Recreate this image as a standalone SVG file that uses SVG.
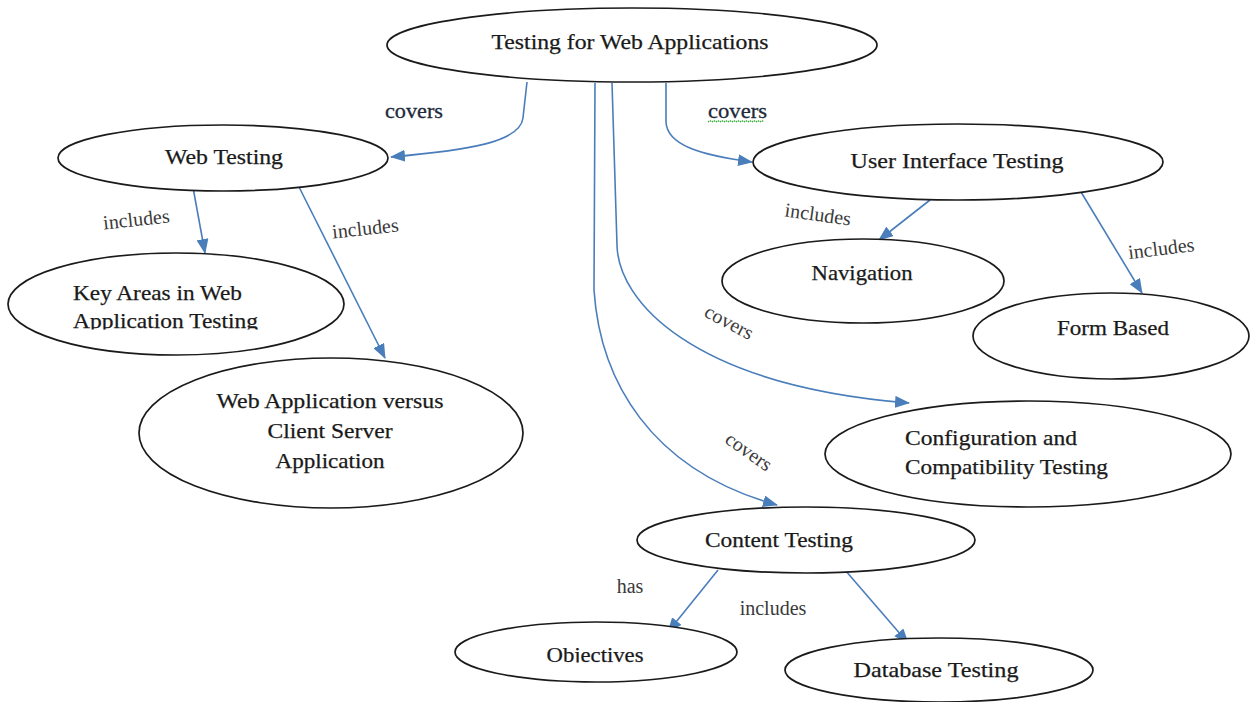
<svg xmlns="http://www.w3.org/2000/svg" width="1251" height="702" viewBox="0 0 1251 702">
  <style>
    .node ellipse { fill: #ffffff; stroke: #1a1a1a; stroke-width: 1.7; }
    .node text { font-family: "Liberation Serif", "Times New Roman", serif; font-size: 21px; fill: #1a1a1a; stroke: #1a1a1a; stroke-width: 0.25; }
    .mid { text-anchor: middle; }
    .edge { fill: none; stroke: #4a7ebb; stroke-width: 1.6; marker-end: url(#arrow); }
    .lbl { font-family: "Liberation Serif", "Times New Roman", serif; font-size: 20px; fill: #3a3a3a; text-anchor: middle; }
    .lbl-dark { font-family: "Liberation Serif", "Times New Roman", serif; font-size: 21px; fill: #1c2a3a; stroke: #1c2a3a; stroke-width: 0.3; }
    .squiggle { fill: none; stroke: #33aa33; stroke-width: 1.2; stroke-dasharray: 1.5 1; }
  </style>
  <defs>
    <marker id="arrow" markerUnits="userSpaceOnUse" markerWidth="15" markerHeight="12" refX="14" refY="6" orient="auto">
      <path d="M0,0 L15,6 L0,12 z" fill="#4a7ebb"/>
    </marker>
    <clipPath id="clip-key">
      <rect x="0" y="240" width="400" height="89.5"/>
    </clipPath>
    <clipPath id="clip-obj">
      <rect x="440" y="600" width="320" height="62.5"/>
    </clipPath>
  </defs>

  <rect width="1251" height="702" fill="#ffffff"/>

  <!-- connectors -->
  <g id="connectors">
    <path class="edge" d="M527,82 C525,100 524,108 523,118 C520,142 470,150 391,157"/>
    <path class="edge" d="M666,83 L666,122 C667,145 700,155 752,162"/>
    <path class="edge" d="M612,83 L617,245 C618,300 690,385 909,403"/>
    <path class="edge" d="M595,83 L594,290 C600,380 650,470 777,505"/>
    <path class="edge" d="M192,182 L205,253"/>
    <path class="edge" d="M298,185 L385,358"/>
    <path class="edge" d="M930,200 L879,240"/>
    <path class="edge" d="M1078,187 L1142,293"/>
    <path class="edge" d="M718,570 L668,632"/>
    <path class="edge" d="M845,570 L908,643"/>

    <!-- connector labels -->
    <text class="lbl-dark" x="385" y="118" textLength="58" lengthAdjust="spacingAndGlyphs">covers</text>
    <text class="lbl-dark" x="708" y="118" textLength="59" lengthAdjust="spacingAndGlyphs">covers</text>
    <path class="squiggle" d="M708,122 l2,-1.5 l2,1.5 l2,-1.5 l2,1.5 l2,-1.5 l2,1.5 l2,-1.5 l2,1.5 l2,-1.5 l2,1.5 l2,-1.5 l2,1.5 l2,-1.5 l2,1.5 l2,-1.5 l2,1.5 l2,-1.5 l2,1.5 l2,-1.5 l2,1.5 l2,-1.5 l2,1.5 l2,-1.5 l2,1.5 l2,-1.5 l2,1.5 l2,-1.5 l2,1.5"/>
    <text class="lbl" transform="translate(137,226) rotate(-6)">includes</text>
    <text class="lbl" transform="translate(366,235) rotate(-6)">includes</text>
    <text class="lbl" transform="translate(817,221) rotate(8)">includes</text>
    <text class="lbl" transform="translate(1162,255) rotate(-7)">includes</text>
    <text class="lbl" transform="translate(726,328) rotate(28)">covers</text>
    <text class="lbl" transform="translate(745,457) rotate(35)">covers</text>
    <text class="lbl" x="630" y="593">has</text>
    <text class="lbl" x="773" y="615">includes</text>
  </g>

  <!-- nodes -->
  <g id="node-root" class="node">
    <ellipse cx="632" cy="45" rx="245" ry="37"/>
    <text class="mid" x="630" y="49" textLength="277" lengthAdjust="spacingAndGlyphs">Testing for Web Applications</text>
  </g>

  <g id="node-web-testing" class="node">
    <ellipse cx="223" cy="158" rx="165" ry="33"/>
    <text class="mid" x="224" y="164" textLength="118" lengthAdjust="spacingAndGlyphs">Web Testing</text>
  </g>

  <g id="node-key-areas" class="node">
    <ellipse cx="176" cy="304" rx="168" ry="51"/>
    <text x="73" y="300" textLength="169" lengthAdjust="spacingAndGlyphs">Key Areas in Web</text>
    <text x="73" y="328" textLength="185" lengthAdjust="spacingAndGlyphs" clip-path="url(#clip-key)">Application Testing</text>
  </g>

  <g id="node-web-vs-client" class="node">
    <ellipse cx="331" cy="433" rx="192" ry="75"/>
    <text class="mid" x="330" y="408" textLength="227" lengthAdjust="spacingAndGlyphs">Web Application versus</text>
    <text class="mid" x="330" y="438" textLength="125" lengthAdjust="spacingAndGlyphs">Client Server</text>
    <text class="mid" x="330" y="468" textLength="109" lengthAdjust="spacingAndGlyphs">Application</text>
  </g>

  <g id="node-ui-testing" class="node">
    <ellipse cx="958" cy="162" rx="205" ry="38"/>
    <text class="mid" x="957" y="168" textLength="213" lengthAdjust="spacingAndGlyphs">User Interface Testing</text>
  </g>

  <g id="node-navigation" class="node">
    <ellipse cx="863" cy="281" rx="141" ry="42"/>
    <text class="mid" x="862" y="280" textLength="101" lengthAdjust="spacingAndGlyphs">Navigation</text>
  </g>

  <g id="node-form-based" class="node">
    <ellipse cx="1111" cy="336" rx="138" ry="43"/>
    <text class="mid" x="1113" y="335" textLength="112" lengthAdjust="spacingAndGlyphs">Form Based</text>
  </g>

  <g id="node-config" class="node">
    <ellipse cx="1028" cy="454" rx="203" ry="53"/>
    <text x="905" y="445" textLength="172" lengthAdjust="spacingAndGlyphs">Configuration and</text>
    <text x="905" y="474" textLength="203" lengthAdjust="spacingAndGlyphs">Compatibility Testing</text>
  </g>

  <g id="node-content" class="node">
    <ellipse cx="806" cy="540" rx="169" ry="33"/>
    <text class="mid" x="779" y="547" textLength="148" lengthAdjust="spacingAndGlyphs">Content Testing</text>
  </g>

  <g id="node-objectives" class="node">
    <ellipse cx="596" cy="652" rx="141" ry="30"/>
    <text class="mid" x="595" y="662" textLength="97" lengthAdjust="spacingAndGlyphs" clip-path="url(#clip-obj)">Objectives</text>
  </g>

  <g id="node-database" class="node">
    <ellipse cx="939" cy="670" rx="154" ry="32"/>
    <text class="mid" x="936" y="677" textLength="165" lengthAdjust="spacingAndGlyphs">Database Testing</text>
  </g>
</svg>
